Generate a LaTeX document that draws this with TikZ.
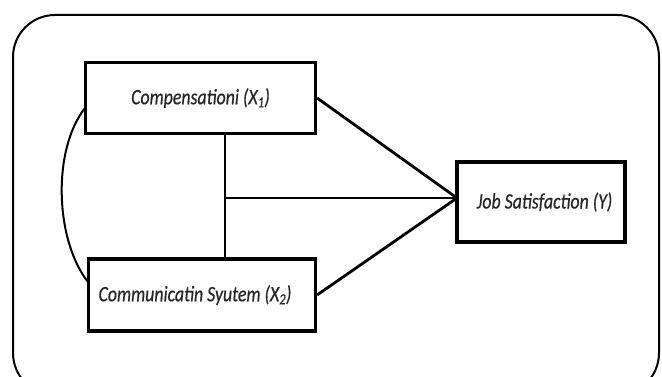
\documentclass[tikz,border=0pt]{standalone}
\usepackage{fontspec}
\setmainfont{Carlito}[ItalicFeatures={FakeBold=0.6}]
\tikzset{
  vbox/.style={draw=black, line width=3.2pt, fill=white, inner sep=0pt, font=\fontsize{22}{24}\selectfont\itshape, text=black!85},
  link/.style={draw=black, line width=2.8pt},
}
\newcommand{\nar}[1]{\scalebox{0.81}[1]{#1}}
\begin{document}
\begin{tikzpicture}[x=1pt,y=-1pt]
\useasboundingbox (0,0) rectangle (662,377);
\begin{scope}
\clip (0,0) rectangle (662,377);
\draw[line width=2pt, rounded corners=42pt] (13,15) rectangle (659,395);
\end{scope}
\node[vbox, minimum width=230pt, minimum height=71pt] (comp) at (200.5,98) {\nar{Compensationi (X\textsubscript{1})}};
\node[vbox, minimum width=227pt, minimum height=72pt] (comm) at (202,295) {\hspace*{-14pt}\nar{Communicatin Syutem (X\textsubscript{2})}};
\node[vbox, minimum width=168pt, minimum height=80pt] (job) at (541,202) {\hspace*{7pt}\raisebox{3pt}{\nar{Job Satisfaction (Y)}}};
\coordinate (jin) at (457,198);
\coordinate (vtop) at (225,133);
\coordinate (vbot) at (225,258);
\coordinate (vmid) at (225,198);
\coordinate (cl1) at (85,108);
\coordinate (cl2) at (88,282);
\draw[link] (vtop) -- (vbot);
\draw[link] (vmid) -- (jin);
\draw[link] (comp.east) -- (jin);
\draw[link] (comm.east) -- (jin);
\draw[line width=2pt] (cl1) .. controls (52,150) and (55,240) .. (cl2);
\end{tikzpicture}
\end{document}
